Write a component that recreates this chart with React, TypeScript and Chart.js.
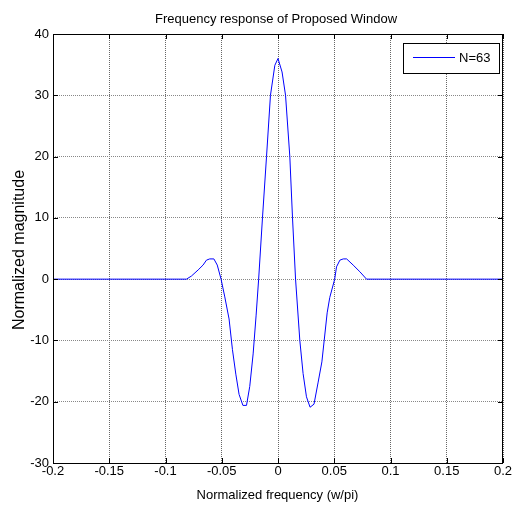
import React, { useEffect, useRef } from "react";
import { Chart, registerables } from "chart.js";

Chart.register(...registerables);

const titleText = "Frequency response of Proposed Window";
const xTitle = "Normalized frequency (w/pi)";
const yTitle = "Normalized magnitude";
const legendLabel = "N=63";

const freq = [
  -0.2, -0.0814, -0.077, -0.071, -0.0666, -0.0636, -0.0607, -0.057, -0.054,
  -0.0506, -0.0473, -0.0435, -0.0405, -0.0375, -0.0346, -0.0312, -0.028,
  -0.0251, -0.0221, -0.0195, -0.0172, -0.0138, -0.0102, -0.0067, -0.0028, 0.0,
  0.0036, 0.0067, 0.0105, 0.0129, 0.0156, 0.0194, 0.0223, 0.0253, 0.0285,
  0.032, 0.0357, 0.039, 0.0437, 0.046, 0.0504, 0.052, 0.055, 0.058, 0.061,
  0.0668, 0.0728, 0.0787, 0.2,
];
const magnitude = [
  0, 0, 0.5, 1.5, 2.3, 3.1, 3.3, 3.3, 2.3,
  0, -2.9, -6.5, -11.5, -15.5, -18.8, -20.6, -20.6,
  -17.5, -12.2, -6, 0, 10, 20, 30, 34.9, 36.0,
  33.8, 30, 20, 10, 0, -10, -15.4, -19.2, -20.9,
  -20.4, -16.8, -13.5, -5.5, -3, 0, 2.0, 3.1, 3.3, 3.3,
  2.3, 1.2, 0, 0,
];

const xMin = -0.2;
const xMax = 0.2;
const xStep = 0.05;
const yMin = -30;
const yMax = 40;
const yStep = 10;

const FONT = "'Liberation Sans', Arial, sans-serif";

const framePlugin = {
  id: "matlabFrame",
  afterDraw(chart: any) {
    const { ctx, chartArea: a, scales } = chart;
    ctx.save();
    // box
    ctx.strokeStyle = "#000";
    ctx.lineWidth = 1;
    ctx.setLineDash([]);
    ctx.strokeRect(Math.round(a.left) + 0.5, Math.round(a.top) + 0.5, Math.round(a.right - a.left) - 1, Math.round(a.bottom - a.top));
    // inward ticks
    const tl = 5;
    ctx.beginPath();
    scales.x.ticks.forEach((t: any) => {
      const px = Math.round(scales.x.getPixelForValue(t.value)) + 0.5;
      ctx.moveTo(px, a.bottom);
      ctx.lineTo(px, a.bottom - tl);
      ctx.moveTo(px, a.top);
      ctx.lineTo(px, a.top + tl);
    });
    scales.y.ticks.forEach((t: any) => {
      const py = Math.round(scales.y.getPixelForValue(t.value)) + 0.5;
      ctx.moveTo(a.left, py);
      ctx.lineTo(a.left + tl, py);
      ctx.moveTo(a.right, py);
      ctx.lineTo(a.right - tl, py);
    });
    ctx.stroke();

    // title
    ctx.fillStyle = "#000";
    ctx.font = `13px ${FONT}`;
    ctx.textAlign = "center";
    ctx.textBaseline = "alphabetic";
    ctx.fillText(titleText, 276, 23);
    // x title
    ctx.fillText(xTitle, 277.5, 499);
    // y title
    ctx.save();
    ctx.translate(23.5, 250);
    ctx.rotate(-Math.PI / 2);
    ctx.font = `16px ${FONT}`;
    ctx.fillText(yTitle, 0, 0);
    ctx.restore();

    // legend
    const lx = 403.5, ly = 43.5, lw = 96, lh = 30;
    ctx.fillStyle = "#fff";
    ctx.fillRect(lx, ly, lw, lh);
    ctx.strokeStyle = "#000";
    ctx.strokeRect(lx, ly, lw, lh);
    ctx.strokeStyle = "#0000ff";
    ctx.beginPath();
    ctx.moveTo(413, 57.5);
    ctx.lineTo(455, 57.5);
    ctx.stroke();
    ctx.fillStyle = "#000";
    ctx.font = `13px ${FONT}`;
    ctx.textAlign = "left";
    ctx.textBaseline = "middle";
    ctx.fillText(legendLabel, 459, 58);
    ctx.restore();
  },
};

export default function App() {
  const ref = useRef<HTMLCanvasElement | null>(null);
  useEffect(() => {
    if (!ref.current) return;
    const chart = new Chart(ref.current, {
      type: "line",
      data: {
        datasets: [
          {
            label: legendLabel,
            data: freq.map((f, i) => ({ x: f, y: magnitude[i] })),
            borderColor: "#0000ff",
            borderWidth: 1,
            pointRadius: 0,
            fill: false,
            tension: 0,
          },
        ],
      },
      options: {
        animation: false,
        responsive: false,
        maintainAspectRatio: false,
        devicePixelRatio: 1,
        layout: { padding: { top: 34, right: 11, bottom: 0, left: 0 } },
        plugins: {
          legend: { display: false },
          title: { display: false },
          tooltip: { enabled: false },
        },
        scales: {
          x: {
            type: "linear",
            min: xMin,
            max: xMax,
            afterFit: (s: any) => {
              s.height = 48;
            },
            ticks: {
              stepSize: xStep,
              padding: 1,
              color: "#000",
              font: { family: FONT, size: 13 },
              maxRotation: 0,
              autoSkip: false,
              callback: (v: any) => String(Number(Number(v).toFixed(2))),
            },
            grid: { color: "#666", drawTicks: false, lineWidth: 1 },
            border: { display: false, dash: [1, 1] },
          },
          y: {
            type: "linear",
            min: yMin,
            max: yMax,
            afterFit: (s: any) => {
              s.width = 53;
            },
            ticks: {
              stepSize: yStep,
              padding: 4,
              color: "#000",
              font: { family: FONT, size: 13 },
              autoSkip: false,
            },
            grid: { color: "#888", drawTicks: false, lineWidth: 1 },
            border: { display: false, dash: [1, 1] },
          },
        },
      },
      plugins: [framePlugin],
    });
    return () => chart.destroy();
  }, []);
  return (
    <div style={{ position: "fixed", left: 0, top: 0, width: 514, height: 511, background: "#fff" }}>
      <canvas ref={ref} width={514} height={511} style={{ width: 514, height: 511, display: "block" }} />
    </div>
  );
}
